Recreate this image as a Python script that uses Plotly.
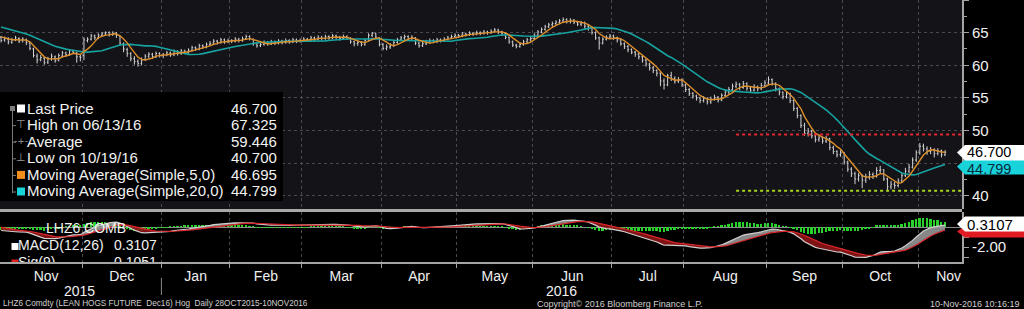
import numpy as np
import pandas as pd
import plotly.graph_objects as go

# ------------------------------------------------------------------ data
# LHZ6 daily bars, 28-Oct-2015 .. 10-Nov-2016 (trading-day index on x)
opens = [
    64.3, 63.9, 64.0, 63.5, 63.9, 64.1, 63.8, 63.9, 63.4, 62.5,
    61.4, 60.9, 61.1, 60.5, 61.0, 61.3, 60.8, 61.4, 61.9, 61.7,
    62.2, 61.9, 61.3, 61.5, 63.8, 64.0, 64.5, 64.2, 64.6, 64.8,
    65.0, 64.7, 64.9, 64.5, 63.3, 62.4, 61.8, 61.0, 60.6, 60.3,
    60.9, 61.4, 61.7, 61.3, 61.8, 61.5, 61.6, 61.9, 61.6, 62.1,
    61.8, 62.2, 62.0, 62.3, 62.7, 62.5, 63.0, 62.8, 63.2, 63.4,
    63.7, 63.5, 63.9, 63.6, 63.8, 63.7, 64.0, 63.8, 64.1, 64.4,
    64.0, 63.3, 63.0, 63.2, 63.5, 63.3, 63.6, 63.4, 63.7, 63.5,
    63.8, 63.6, 63.9, 63.7, 63.8, 64.0, 63.9, 64.2, 64.0, 64.3,
    64.1, 64.4, 64.2, 64.5, 64.3, 64.1, 64.4, 64.1, 63.6, 63.3,
    63.5, 63.2, 63.9, 64.6, 64.9, 64.2, 63.2, 62.6, 62.8, 63.0,
    63.5, 63.9, 64.2, 64.4, 64.1, 64.2, 63.4, 63.0, 63.3, 63.6,
    63.8, 63.7, 63.9, 63.8, 64.0, 64.2, 64.4, 64.6, 64.5, 64.8,
    64.7, 64.9, 64.8, 65.0, 64.9, 65.1, 65.0, 65.2, 65.4, 65.1,
    64.9, 64.3, 63.6, 63.1, 62.9, 63.2, 63.6, 63.9, 64.1, 64.6,
    65.1, 65.5, 65.9, 66.2, 66.4, 66.6, 66.8, 67.0, 66.7, 66.9,
    66.6, 66.3, 66.5, 66.0, 65.7, 65.0, 64.2, 63.4, 64.0, 64.3,
    64.5, 64.2, 63.9, 63.3, 62.9, 62.4, 62.0, 61.7, 61.3, 60.8,
    60.2, 59.6, 59.2, 58.8, 57.6, 57.0, 58.4, 58.0, 57.6, 57.8,
    57.0, 56.3, 55.7, 55.3, 55.0, 54.6, 54.9, 54.4, 54.8, 55.1,
    54.7, 55.4, 55.9, 56.3, 56.8, 57.1, 56.6, 57.2, 56.5, 56.2,
    56.7, 56.4, 56.9, 57.3, 57.8, 57.2, 56.4, 55.9, 55.2, 55.6,
    54.6, 53.4, 52.3, 50.8, 49.6, 49.9, 49.2, 48.6, 48.9, 48.4,
    48.8, 47.4, 46.8, 46.3, 46.6, 45.2, 44.1, 43.4, 42.6, 43.1,
    42.4, 42.9, 43.3, 43.0, 43.9, 44.0, 42.6, 41.4, 41.8, 41.6,
    42.3, 43.1, 43.8, 44.4, 45.5, 46.6, 47.6, 47.2, 46.8, 47.1,
    46.5, 46.9, 46.3,
]
highs = [
    64.5, 64.4, 64.3, 64.2, 64.5, 64.3, 64.3, 64.1, 63.6, 62.7,
    61.8, 61.6, 61.3, 61.3, 61.8, 61.5, 61.8, 62.2, 62.1, 62.5,
    62.4, 62.1, 61.6, 64.3, 64.3, 64.8, 64.7, 64.9, 65.1, 65.2,
    65.2, 65.2, 65.1, 64.6, 63.5, 62.7, 62.0, 61.4, 60.9, 61.2,
    61.7, 62.0, 61.9, 62.1, 62.0, 61.9, 62.2, 62.1, 62.4, 62.3,
    62.5, 62.4, 62.6, 63.0, 62.9, 63.3, 63.2, 63.5, 63.7, 64.0,
    63.9, 64.2, 64.1, 64.1, 64.0, 64.3, 64.2, 64.4, 64.7, 64.6,
    64.1, 63.5, 63.5, 63.8, 63.7, 63.9, 63.8, 64.0, 63.9, 64.1,
    64.0, 64.2, 64.1, 64.1, 64.3, 64.2, 64.5, 64.4, 64.6, 64.5,
    64.7, 64.6, 64.8, 64.7, 64.5, 64.7, 64.6, 64.3, 63.8, 63.8,
    63.7, 64.1, 64.9, 65.1, 65.0, 64.3, 63.4, 63.2, 63.4, 63.8,
    64.2, 64.5, 64.7, 64.6, 64.6, 64.3, 63.6, 63.6, 63.9, 64.1,
    64.0, 64.2, 64.1, 64.3, 64.5, 64.7, 64.9, 64.8, 65.1, 65.0,
    65.2, 65.1, 65.3, 65.2, 65.4, 65.3, 65.5, 65.7, 65.6, 65.3,
    65.0, 64.4, 63.8, 63.3, 63.5, 63.9, 64.2, 64.4, 64.9, 65.4,
    65.8, 66.2, 66.5, 66.7, 66.9, 67.1, 67.325, 67.2, 67.2, 67.1,
    66.8, 66.8, 66.7, 66.2, 65.9, 65.2, 64.4, 64.3, 64.6, 64.8,
    64.7, 64.4, 64.0, 63.5, 63.1, 62.6, 62.2, 61.9, 61.5, 61.0,
    60.4, 59.9, 59.4, 58.9, 58.0, 58.7, 59.0, 58.3, 58.2, 58.0,
    57.2, 56.5, 55.9, 55.5, 55.2, 55.3, 55.1, 55.2, 55.5, 55.3,
    55.7, 56.3, 56.7, 57.2, 57.5, 57.3, 57.6, 57.4, 56.8, 57.1,
    56.9, 57.3, 57.7, 58.3, 58.0, 57.4, 56.6, 56.0, 56.0, 55.8,
    54.8, 53.6, 52.5, 51.2, 50.4, 50.1, 49.5, 49.3, 49.1, 49.2,
    48.9, 47.7, 47.0, 47.0, 46.7, 45.4, 44.4, 43.7, 43.5, 43.3,
    43.4, 43.8, 43.6, 44.4, 44.6, 44.1, 42.8, 42.3, 42.2, 42.7,
    43.5, 44.3, 44.9, 45.9, 47.0, 48.1, 48.0, 47.6, 47.5, 47.3,
    47.3, 47.1, 47.0,
]
lows = [
    63.5, 63.6, 63.2, 63.3, 63.7, 63.4, 63.5, 63.1, 62.3, 61.2,
    60.3, 60.6, 60.1, 60.2, 60.7, 60.4, 60.6, 61.2, 61.3, 61.5,
    61.7, 60.4, 60.6, 60.8, 63.5, 63.8, 63.9, 64.0, 64.4, 64.5,
    64.4, 64.5, 64.2, 63.1, 62.0, 61.3, 60.6, 60.1, 59.8, 60.0,
    60.7, 61.1, 61.0, 61.1, 61.2, 61.1, 61.4, 61.3, 61.4, 61.5,
    61.6, 61.7, 61.8, 62.1, 62.2, 62.3, 62.5, 62.6, 63.0, 63.2,
    63.2, 63.3, 63.3, 63.4, 63.4, 63.5, 63.5, 63.6, 63.9, 63.8,
    63.0, 62.7, 62.8, 63.0, 63.0, 63.1, 63.1, 63.2, 63.2, 63.3,
    63.3, 63.4, 63.4, 63.5, 63.6, 63.6, 63.7, 63.7, 63.8, 63.8,
    63.9, 63.9, 64.0, 64.0, 63.8, 63.9, 63.9, 63.3, 62.9, 63.0,
    62.9, 63.0, 63.7, 64.3, 64.0, 62.9, 62.3, 62.3, 62.5, 62.8,
    63.3, 63.7, 63.9, 63.8, 63.8, 63.1, 62.7, 62.8, 63.1, 63.3,
    63.4, 63.4, 63.5, 63.6, 63.8, 64.0, 64.2, 64.2, 64.3, 64.4,
    64.5, 64.5, 64.6, 64.6, 64.7, 64.7, 64.8, 65.0, 64.8, 64.5,
    64.0, 63.3, 62.8, 62.6, 62.7, 63.0, 63.4, 63.6, 63.9, 64.4,
    64.9, 65.3, 65.7, 65.9, 66.1, 66.3, 66.5, 66.4, 66.4, 66.3,
    66.0, 66.0, 65.6, 65.3, 64.7, 63.9, 62.4, 63.2, 63.8, 64.0,
    63.9, 63.5, 63.0, 62.5, 62.0, 61.7, 61.3, 60.9, 60.4, 59.8,
    59.2, 58.8, 58.3, 56.8, 56.3, 56.8, 57.6, 57.2, 57.3, 56.7,
    55.9, 55.3, 54.9, 54.6, 54.2, 54.3, 54.0, 54.1, 54.6, 54.3,
    54.5, 55.2, 55.6, 56.0, 56.5, 56.2, 56.4, 56.1, 55.8, 56.0,
    56.0, 56.2, 56.7, 57.1, 56.9, 56.0, 55.4, 54.8, 54.9, 54.2,
    53.0, 51.9, 50.4, 49.2, 49.1, 48.8, 48.2, 48.3, 48.0, 48.1,
    47.0, 46.4, 45.9, 46.0, 44.8, 43.7, 42.9, 41.8, 42.2, 41.2,
    42.0, 42.5, 42.6, 42.8, 43.5, 42.3, 40.7, 41.0, 41.1, 41.3,
    42.0, 42.9, 43.5, 44.2, 45.2, 46.3, 46.8, 46.3, 46.4, 45.9,
    46.2, 45.9, 46.1,
]
closes = [
    63.8, 64.1, 63.6, 63.9, 64.2, 63.7, 64.0, 63.5, 62.6, 61.5,
    60.8, 61.2, 60.4, 61.0, 61.4, 60.7, 61.5, 61.9, 61.6, 62.2,
    62.0, 61.3, 61.2, 63.9, 64.0, 64.5, 64.2, 64.6, 64.8, 65.0,
    64.7, 64.9, 64.6, 63.4, 62.5, 61.8, 61.0, 60.6, 60.3, 60.8,
    61.4, 61.7, 61.3, 61.8, 61.5, 61.6, 61.9, 61.6, 62.1, 61.8,
    62.2, 62.0, 62.3, 62.7, 62.5, 63.0, 62.8, 63.2, 63.4, 63.7,
    63.5, 63.9, 63.6, 63.8, 63.7, 64.0, 63.8, 64.1, 64.4, 64.1,
    63.3, 63.0, 63.2, 63.5, 63.3, 63.6, 63.4, 63.7, 63.5, 63.8,
    63.6, 63.9, 63.7, 63.8, 64.0, 63.9, 64.2, 64.0, 64.3, 64.1,
    64.4, 64.2, 64.5, 64.3, 64.1, 64.4, 64.2, 63.6, 63.3, 63.5,
    63.2, 63.8, 64.6, 64.9, 64.3, 63.2, 62.6, 62.8, 63.0, 63.5,
    63.9, 64.2, 64.4, 64.1, 64.3, 63.4, 63.0, 63.3, 63.6, 63.8,
    63.7, 63.9, 63.8, 64.0, 64.2, 64.4, 64.6, 64.5, 64.8, 64.7,
    64.9, 64.8, 65.0, 64.9, 65.1, 65.0, 65.2, 65.4, 65.1, 64.9,
    64.3, 63.6, 63.1, 62.9, 63.2, 63.6, 63.9, 64.1, 64.6, 65.1,
    65.5, 65.9, 66.2, 66.4, 66.6, 66.8, 67.0, 66.7, 66.9, 66.6,
    66.3, 66.5, 66.0, 65.7, 65.0, 64.2, 63.4, 64.0, 64.3, 64.5,
    64.2, 63.9, 63.3, 62.9, 62.4, 62.0, 61.7, 61.3, 60.8, 60.2,
    59.6, 59.2, 58.8, 57.6, 57.0, 58.4, 58.0, 57.6, 57.8, 57.0,
    56.3, 55.7, 55.3, 55.0, 54.6, 54.9, 54.4, 54.8, 55.1, 54.7,
    55.4, 55.9, 56.3, 56.8, 57.1, 56.6, 57.2, 56.5, 56.2, 56.7,
    56.4, 56.9, 57.3, 57.8, 57.2, 56.4, 55.9, 55.2, 55.6, 54.6,
    53.4, 52.3, 50.8, 49.6, 49.9, 49.2, 48.6, 48.9, 48.4, 48.8,
    47.4, 46.8, 46.3, 46.6, 45.2, 44.1, 43.4, 42.6, 43.1, 42.4,
    42.9, 43.3, 43.0, 43.9, 44.0, 42.6, 41.4, 41.8, 41.6, 42.3,
    43.1, 43.8, 44.4, 45.5, 46.6, 47.6, 47.2, 46.8, 47.1, 46.5,
    46.9, 46.3, 46.7,
]
# estimated closes before the visible window (only feed the studies)
prior_closes = [
    64.5, 64.8, 65.2, 65.6, 66.0, 66.3, 66.6, 66.8, 67.0, 67.1,
    67.0, 66.8, 66.9, 66.7, 66.5, 66.6, 66.3, 66.0, 65.8, 65.5,
    65.2, 65.0, 64.8, 64.6, 64.4, 64.2,
]

month_labels = ["Nov", "Dec", "Jan", "Feb", "Mar", "Apr", "May",
                "Jun", "Jul", "Aug", "Sep", "Oct", "Nov"]
month_starts = [3, 23, 45, 64, 84, 106, 127, 148, 170, 190, 213, 234, 255, 272]
year_labels = ["2015", "2016"]

price_ticks = [40, 45, 50, 55, 60, 65, 70]
price_ticktext = ["40", "", "50", "55", "60", "65", ""]
macd_ticks = [-3, -2, -1, 0, 1]
macd_ticktext = ["", "-2.00", "", "", ""]

resistance_level = 49.4
support_level = 40.8
level_start_idx = 204

legend_labels = ["Last Price", "High on 06/13/16", "Average", "Low on 10/19/16",
                 "Moving Average(Simple,5,0)", "Moving Average(Simple,20,0)"]
legend_values = ["46.700", "67.325", "59.446", "40.700", "46.695", "44.799"]
last_price_txt = "46.700"
ma20_last_txt = "44.799"
macd_last_txt = "0.3107"
sig_last_txt = "0.1051"

# ------------------------------------------------------------------ studies
allc = pd.Series(prior_closes + closes, dtype=float)
n0 = len(prior_closes)
ma5 = allc.rolling(5).mean().iloc[n0:].to_numpy()
ma20 = allc.rolling(20).mean().iloc[n0:].to_numpy()
ema12 = allc.ewm(span=12, adjust=False).mean()
ema26 = allc.ewm(span=26, adjust=False).mean()
macd_all = ema12 - ema26
sig_all = macd_all.ewm(span=9, adjust=False).mean()
macd = macd_all.iloc[n0:].to_numpy()
sig = sig_all.iloc[n0:].to_numpy()
hist = macd - sig
x = np.arange(len(closes))

# ------------------------------------------------------------------ geometry
W, H = 1024, 309
MR, MB = 62, 47
PW, PH = W - MR, H - MB          # plot area 962 x 262
MAIN_BOTTOM = 209
MACD_TOP = 212
X_RANGE = [-0.3, 266.7]
Y_RANGE = [38.0, 70.0]
M_RANGE = [-3.5, 1.5]
FONT = "Liberation Sans, Arial, sans-serif"


def fx(px):
    return px / PW


def fy(py):
    return (PH - py) / PH


def xd(px):
    return X_RANGE[0] + px / PW * (X_RANGE[1] - X_RANGE[0])


def md(py):
    return M_RANGE[1] - (py - MACD_TOP) / (PH - MACD_TOP) * (M_RANGE[1] - M_RANGE[0])


fig = go.Figure()

# price bars
fig.add_trace(go.Ohlc(
    x=x, open=opens, high=highs, low=lows, close=closes, xaxis="x2", yaxis="y",
    increasing=dict(line=dict(color="#d4d4d4", width=1)),
    decreasing=dict(line=dict(color="#d4d4d4", width=1)),
    tickwidth=0.3, hoverinfo="skip", showlegend=False))
fig.add_trace(go.Scatter(x=x, y=ma20, mode="lines", xaxis="x2", yaxis="y",
                         line=dict(color="#17a3a0", width=1.6), hoverinfo="skip", showlegend=False))
fig.add_trace(go.Scatter(x=x, y=ma5, mode="lines", xaxis="x2", yaxis="y",
                         line=dict(color="#dc8e2a", width=1.4), hoverinfo="skip", showlegend=False))
fig.add_trace(go.Scatter(x=[level_start_idx, X_RANGE[1]], y=[resistance_level] * 2, mode="lines",
                         xaxis="x2", yaxis="y", line=dict(color="#e3262e", width=2, dash="dot"),
                         hoverinfo="skip", showlegend=False))
fig.add_trace(go.Scatter(x=[level_start_idx, X_RANGE[1]], y=[support_level] * 2, mode="lines",
                         xaxis="x2", yaxis="y", line=dict(color="#a6d31e", width=2, dash="dot"),
                         hoverinfo="skip", showlegend=False))

# MACD panel
fig.add_trace(go.Bar(x=x, y=hist, xaxis="x", yaxis="y2", width=0.5,
                     marker=dict(color="#2bd12b", line=dict(width=0)),
                     hoverinfo="skip", showlegend=False))
fig.add_trace(go.Scatter(x=x, y=sig, mode="lines", xaxis="x", yaxis="y2",
                         line=dict(width=0, color="rgba(0,0,0,0)"), hoverinfo="skip", showlegend=False))
fig.add_trace(go.Scatter(x=x, y=np.maximum(macd, sig), mode="lines", xaxis="x", yaxis="y2",
                         line=dict(width=0, color="rgba(0,0,0,0)"), fill="tonexty",
                         fillcolor="rgba(150,150,150,0.9)", hoverinfo="skip", showlegend=False))
fig.add_trace(go.Scatter(x=x, y=sig, mode="lines", xaxis="x", yaxis="y2",
                         line=dict(width=0, color="rgba(0,0,0,0)"), hoverinfo="skip", showlegend=False))
fig.add_trace(go.Scatter(x=x, y=np.minimum(macd, sig), mode="lines", xaxis="x", yaxis="y2",
                         line=dict(width=0, color="rgba(0,0,0,0)"), fill="tonexty",
                         fillcolor="rgba(140,20,22,0.9)", hoverinfo="skip", showlegend=False))
fig.add_trace(go.Scatter(x=x, y=macd, mode="lines", xaxis="x", yaxis="y2",
                         line=dict(color="#cfcfcf", width=1.2), hoverinfo="skip", showlegend=False))
fig.add_trace(go.Scatter(x=x, y=sig, mode="lines", xaxis="x", yaxis="y2",
                         line=dict(color="#d8262a", width=1.2), hoverinfo="skip", showlegend=False))


# MACD legend (clipped to the panel)
def panel_text(px, py, s, size=14, color="#f2f2f2"):
    fig.add_trace(go.Scatter(x=[xd(px)], y=[md(py)], mode="text", text=[s],
                             textposition="middle right", xaxis="x", yaxis="y2",
                             textfont=dict(size=size, color=color, family=FONT),
                             cliponaxis=True, hoverinfo="skip", showlegend=False))


panel_text(46, 229, "LHZ6 COMB")
panel_text(18, 246.5, "MACD(12,26)")
panel_text(114, 246.5, macd_last_txt)
panel_text(18, 263, "Sig(9)")
panel_text(114, 263, sig_last_txt)
fig.add_trace(go.Scatter(x=[xd(15), xd(15)], y=[md(246.5), md(263)], mode="markers",
                         xaxis="x", yaxis="y2", cliponaxis=True,
                         marker=dict(symbol="square", size=7, color=["#ffffff", "#e02020"]),
                         hoverinfo="skip", showlegend=False))

# ------------------------------------------------------------------ axes
label_pos = [(month_starts[i] + month_starts[i + 1]) / 2 - 0.5 for i in range(len(month_labels))]
bounds = [s - 0.5 for s in month_starts[1:13]]
grid = dict(showgrid=True, gridcolor="#4b4a52", griddash="dot", gridwidth=1)

fig.update_layout(
    width=W, height=H, autosize=False,
    margin=dict(l=0, r=MR, t=0, b=MB, pad=0),
    paper_bgcolor="#000000", plot_bgcolor="#000000",
    showlegend=False, bargap=0,
    font=dict(family=FONT, color="#f0f0f0"),
    xaxis=dict(domain=[0, 1], anchor="y2", range=X_RANGE, tickmode="array",
               tickvals=label_pos, ticktext=month_labels, ticks="", showgrid=False,
               zeroline=False, showline=True, linecolor="#a4a4a4", linewidth=2,
               tickfont=dict(size=14, color="#f0f0f0", family=FONT),
               rangeslider=dict(visible=False),
               minor=dict(tickmode="array", tickvals=bounds, ticks="outside", ticklen=4,
                          tickcolor="#a4a4a4", **grid)),
    xaxis2=dict(domain=[0, 1], anchor="y", matches="x", range=X_RANGE, showticklabels=False,
                ticks="", showgrid=False, zeroline=False, showline=False,
                rangeslider=dict(visible=False),
                minor=dict(tickmode="array", tickvals=bounds, ticks="", **grid)),
    yaxis=dict(domain=[fy(MAIN_BOTTOM), 1], anchor="x2", side="right", range=Y_RANGE,
               tickmode="array", tickvals=price_ticks, ticktext=price_ticktext,
               ticks="outside", ticklen=5, tickcolor="#a4a4a4", zeroline=False,
               showline=True, linecolor="#a4a4a4", linewidth=2,
               tickfont=dict(size=15, color="#f0f0f0", family=FONT),
               minor=dict(tickmode="array", tickvals=list(np.arange(37.5, 70, 5)),
                          ticks="outside", ticklen=3, tickcolor="#a4a4a4", showgrid=False),
               **grid),
    yaxis2=dict(domain=[0, fy(MACD_TOP)], anchor="x", side="right", range=M_RANGE,
                tickmode="array", tickvals=macd_ticks, ticktext=macd_ticktext,
                ticks="outside", ticklen=5, tickcolor="#a4a4a4", showgrid=False,
                zeroline=True, zerolinecolor="#8c8c8c", zerolinewidth=1,
                showline=True, linecolor="#a4a4a4", linewidth=2,
                tickfont=dict(size=15, color="#f0f0f0", family=FONT)),
)

# ------------------------------------------------------------------ shapes
shapes = []
# main panel background
shapes.append(dict(type="rect", xref="paper", yref="paper", x0=0, x1=1, y0=fy(MAIN_BOTTOM), y1=1,
                   fillcolor="#141318", line=dict(width=0), layer="below"))
# panel separator
shapes.append(dict(type="line", xref="paper", yref="paper", x0=0, x1=1, y0=fy(210.5), y1=fy(210.5),
                   line=dict(color="#a8a8a8", width=3), layer="above"))
# legend box
shapes.append(dict(type="rect", xref="paper", yref="paper", x0=0, x1=fx(283), y0=fy(201), y1=fy(92),
                   fillcolor="#000000", line=dict(width=0), layer="above"))
# legend tree
shapes.append(dict(type="line", xref="paper", yref="paper", x0=fx(12.5), x1=fx(12.5),
                   y0=fy(111), y1=fy(193), line=dict(color="#7a7a7a", width=1), layer="above"))
shapes.append(dict(type="rect", xref="paper", yref="paper", x0=fx(10), x1=fx(15), y0=fy(111), y1=fy(106),
                   fillcolor="#7a7a7a", line=dict(width=0), layer="above"))
row_y = [108, 124.6, 141.2, 157.8, 174.4, 191]
for ry in row_y[1:]:
    shapes.append(dict(type="line", xref="paper", yref="paper", x0=fx(12.5), x1=fx(16),
                       y0=fy(ry + 1), y1=fy(ry + 1), line=dict(color="#7a7a7a", width=1), layer="above"))
# legend colour squares
for ry, col in [(row_y[0], "#ffffff"), (row_y[4], "#f28e1c"), (row_y[5], "#19d3db")]:
    shapes.append(dict(type="rect", xref="paper", yref="paper", x0=fx(17), x1=fx(25),
                       y0=fy(ry + 4.5), y1=fy(ry - 3.5), fillcolor=col, line=dict(width=0), layer="above"))


def tag(py_mid, top, bot, col):
    p = "M {:.5f},{:.5f} L {:.5f},{:.5f} L {:.5f},{:.5f} L {:.5f},{:.5f} L {:.5f},{:.5f} Z".format(
        fx(957), fy(py_mid), fx(965), fy(top), fx(1024), fy(top), fx(1024), fy(bot), fx(965), fy(bot))
    shapes.append(dict(type="path", xref="paper", yref="paper", path=p, fillcolor=col,
                       line=dict(width=0), layer="above"))


tag(166.5, 159.5, 174.5, "#19d3db")
tag(152.5, 145, 160.5, "#ffffff")
tag(231.5, 226, 237.5, "#e01c22")
tag(224, 216.5, 231.5, "#ffffff")

# year separator tick
shapes.append(dict(type="line", xref="x", yref="paper", x0=month_starts[2] - 0.5, x1=month_starts[2] - 0.5,
                   y0=fy(278), y1=fy(295), line=dict(color="#8a8a8a", width=1), layer="above"))
fig.update_layout(shapes=shapes)

# ------------------------------------------------------------------ annotations
ann = []


def text(px, py, s, size=15, color="#f2f2f2", anchor="left", family=FONT):
    ann.append(dict(x=fx(px), y=fy(py), xref="paper", yref="paper", text=s, showarrow=False,
                    xanchor=anchor, yanchor="middle", borderpad=0,
                    font=dict(size=size, color=color, family=family)))


for ry, lab, val in zip(row_y, legend_labels, legend_values):
    text(26, ry, lab)
    text(278, ry, val, anchor="right")
text(21, row_y[1], "⊤", size=11, color="#9a9a9a", anchor="center", family="DejaVu Sans")
text(21, row_y[2], "-+-", size=9, color="#9a9a9a", anchor="center", family="DejaVu Sans")
text(21, row_y[3], "⊥", size=11, color="#9a9a9a", anchor="center", family="DejaVu Sans")

# right-side value tags
text(966, 152.5, last_price_txt, size=14.5, color="#000000")
text(966, 168.5, ma20_last_txt, size=14.5, color="#0b2a3c")
text(966, 224, macd_last_txt, size=15, color="#000000")

# years
text(79, 290.5, year_labels[0], size=14, anchor="center")
text(561, 290.5, year_labels[1], size=14, anchor="center")

# footer
text(2, 303.5, "LHZ6 Comdty (LEAN HOGS FUTURE&nbsp;&nbsp;Dec16) Hog&nbsp;&nbsp;Daily 28OCT2015-10NOV2016",
     size=8.2, color="#d0d0d0")
text(620, 303.5, "Copyright© 2016 Bloomberg Finance L.P.", size=9, color="#d0d0d0", anchor="center")
text(1021, 303.5, "10-Nov-2016 10:16:19", size=9, color="#d0d0d0", anchor="right")

fig.update_layout(annotations=ann)

fig.write_html("out.html")
